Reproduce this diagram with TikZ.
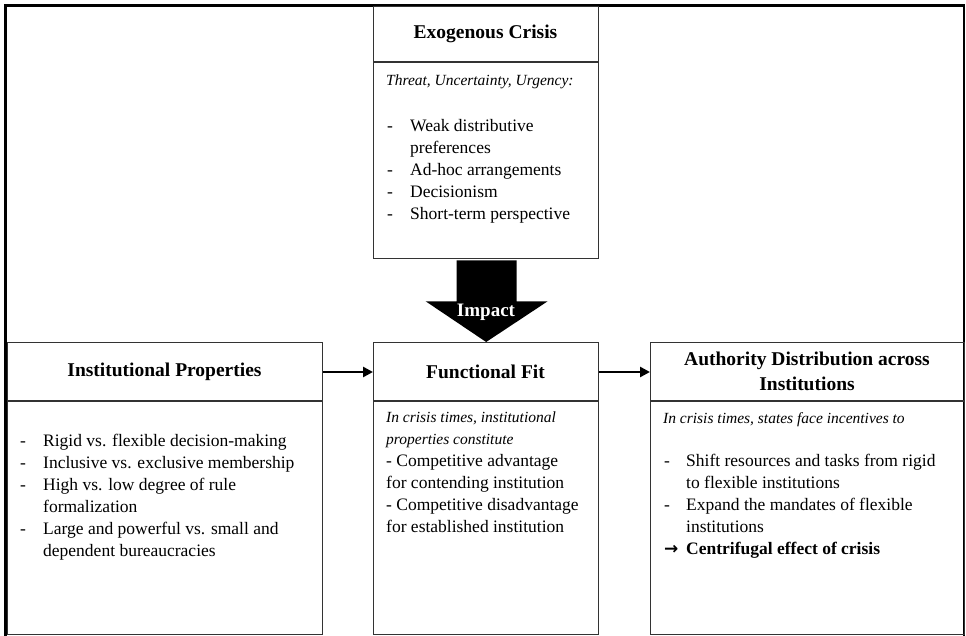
\documentclass[tikz,border=0pt]{standalone}
\usepackage{fontspec}
\setmainfont{Liberation Serif}
\newfontfamily\symfam{DejaVu Sans}
\usetikzlibrary{arrows.meta,calc}
\begin{document}
\begin{tikzpicture}[x=1pt,y=-1pt,
  boxline/.style={draw=black!80, line width=1.3pt},
  box/.style={boxline, anchor=north west, inner sep=0pt},
  title/.style={inner sep=0pt, align=center, font=\fontsize{19.5}{25}\selectfont\bfseries},
  body/.style={anchor=north west, inner sep=0pt, align=left, font=\fontsize{17.5}{22}\selectfont},
  ital/.style={anchor=north west, inner sep=0pt, align=left, font=\fontsize{15.5}{22}\selectfont\itshape},
  harrow/.style={line width=2.8pt, -{Triangle[length=10pt,width=10pt]}},
  ]
\useasboundingbox (0,0) rectangle (966,636);
\fill[white] (0,0) rectangle (966,636);
% outer frame
\draw[line width=2.6pt] (5.5,645) -- (5.5,5.5) -- (964,5.5) -- (964,645);

% boxes
\node[box, minimum width=225pt, minimum height=252pt] (topbox) at (373,6) {};
\node[box, minimum width=225pt, minimum height=292pt] (midbox) at (373,342) {};
\node[box, minimum width=315pt, minimum height=292pt] (leftbox) at (7,342) {};
\node[box, minimum width=314pt, minimum height=292pt] (rightbox) at (650,342) {};

% header dividers
\draw[boxline] (topbox.west |- 0,62) -- (topbox.east |- 0,62);
\draw[boxline] (leftbox.west |- 0,401) -- (leftbox.east |- 0,401);
\draw[boxline] (midbox.west |- 0,401) -- (midbox.east |- 0,401);
\draw[boxline] (rightbox.west |- 0,401) -- (rightbox.east |- 0,401);

% titles
\node[title] (toptitle) at (485.5,34) {Exogenous Crisis};
\node[title] (lefttitle) at (164.5,372) {Institutional Properties};
\node[title] (midtitle) at (485.5,372) {Functional Fit};
\node[title] (righttitle) at (807,371) {Authority Distribution across\\Institutions};

% top box text
\node[ital] (topital) at (386,75) {Threat, Uncertainty, Urgency:};
\node[body] (toplist) at (387,119) {\makebox[23pt][l]{-}Weak distributive\\
\hspace*{23pt}preferences\\
\makebox[23pt][l]{-}Ad-hoc arrangements\\
\makebox[23pt][l]{-}Decisionism\\
\makebox[23pt][l]{-}Short-term perspective};

% left box text
\node[body] (leftlist) at (20,434) {\makebox[23pt][l]{-}Rigid vs. flexible decision-making\\
\makebox[23pt][l]{-}Inclusive vs. exclusive membership\\
\makebox[23pt][l]{-}High vs. low degree of rule\\
\hspace*{23pt}formalization\\
\makebox[23pt][l]{-}Large and powerful vs. small and\\
\hspace*{23pt}dependent bureaucracies};

% middle box text
\node[body] (midtext) at (386,412) {{\fontsize{15.5}{22}\selectfont\itshape In crisis times, institutional}\\
{\fontsize{15.5}{22}\selectfont\itshape properties constitute}\\
- Competitive advantage\\
for contending institution\\
- Competitive disadvantage\\
for established institution};

% right box text
\node[ital] (rightital) at (663,412) {In crisis times, states face incentives to};
\node[body] (rightlist) at (664,454) {\makebox[22pt][l]{-}Shift resources and tasks from rigid\\
\hspace*{22pt}to flexible institutions\\
\makebox[22pt][l]{-}Expand the mandates of flexible\\
\hspace*{22pt}institutions\\
\makebox[22pt][l]{{\symfam\bfseries\fontsize{17}{22}\selectfont →}}\textbf{Centrifugal effect of crisis}};

% horizontal arrows
\draw[harrow] (leftbox.east |- 0,372) -- (midbox.west |- 0,372);
\draw[harrow] (midbox.east |- 0,372) -- (rightbox.west |- 0,372);

% block arrow (impact)
\fill[black] ($(topbox.south)+(-29.5,1)$) -- ($(topbox.south)+(30.5,1)$)
  -- ($(topbox.south)+(30.5,42)$) -- ($(topbox.south)+(61.5,42)$)
  -- (midbox.north) -- ($(topbox.south)+(-60.5,42)$)
  -- ($(topbox.south)+(-29.5,42)$) -- cycle;
\node[text=white, inner sep=0pt, font=\fontsize{19}{22}\selectfont\bfseries] (impact) at (486,312) {Impact};
\end{tikzpicture}
\end{document}
